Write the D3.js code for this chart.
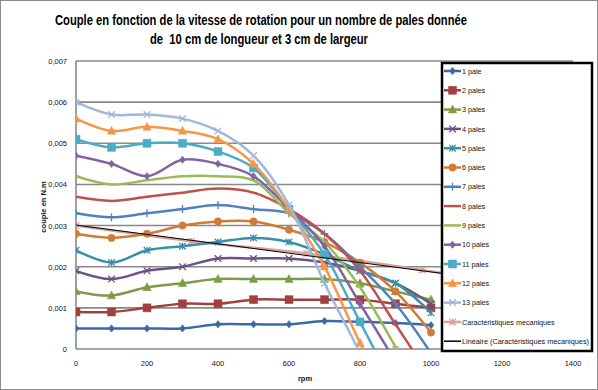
<!DOCTYPE html>
<html><head><meta charset="utf-8">
<script src="https://cdn.jsdelivr.net/npm/d3@7/dist/d3.min.js"></script>
<style>body{margin:0;background:#fff}svg{display:block}text{font-family:"Liberation Sans",Arial,sans-serif}</style>
</head><body><svg id="c" width="598" height="390"></svg>
<script>
const titleLines = ["Couple en fonction de la vitesse de rotation pour un nombre de pales donnée", "de  10 cm de longueur et 3 cm de largeur"];
const yTitle = "couple en N.m";
const xTitle = "rpm";
const rpm = [0,100,200,300,400,500,600,700,800,900,1000];
const xTicks = [0,200,400,600,800,1000,1200,1400];
const yTicks = [0,0.001,0.002,0.003,0.004,0.005,0.006,0.007];
const yTickLabels = ["0","0,001","0,002","0,003","0,004","0,005","0,006","0,007"];
const names = ["1 pale","2 pales","3 pales","4 pales","5 pales","6 pales","7 pales","8 pales","9 pales","10 pales","11 pales","12 pales","13 pales"];
const colors = ["#3B69A5","#A0413E","#7E9B47","#6A5287","#3A8FA8","#D07C34","#4F81BD","#C0504D","#9BBB59","#8064A2","#4BACC6","#F79646","#A3B7DA"];
const markers = ["diamond","square","triangle","cross","star","circle","plus","dash","dash","diamond","square","triangle","cross"];
const s1  = [0.0005,0.0005,0.0005,0.0005,0.0006,0.0006,0.0006,0.00068,0.00066,0.00063,0.00058];
const s2  = [0.0009,0.0009,0.001,0.0011,0.0011,0.0012,0.0012,0.0012,0.0012,0.0011,0.001];
const s3  = [0.0014,0.0013,0.0015,0.0016,0.0017,0.0017,0.0017,0.0017,0.0016,0.0014,0.0012];
const s4  = [0.0019,0.0017,0.0019,0.002,0.0022,0.0022,0.0022,0.0021,0.0019,0.0016,0.0011];
const s5  = [0.0024,0.0021,0.0024,0.0025,0.0026,0.0027,0.0026,0.0023,0.0019,0.0016,0.00088];
const s6  = [0.0028,0.0027,0.0028,0.003,0.0031,0.0031,0.0029,0.0026,0.0021,0.0014,0.0004];
const s7  = [0.0033,0.0032,0.0033,0.0034,0.0035,0.0034,0.0033,0.0028,0.002,0.0011,-0.0001];
const s8  = [0.0037,0.0036,0.0037,0.0038,0.0039,0.0038,0.0034,0.0028,0.0019,0.0006,-0.0007];
const s9  = [0.0042,0.004,0.0041,0.0042,0.0042,0.0041,0.0033,0.0026,0.0015,0.00005,-0.0015];
const s10 = [0.0047,0.0045,0.0042,0.0046,0.0045,0.0042,0.0034,0.0025,0.0011,-0.0003];
const s11 = [0.0051,0.0049,0.005,0.005,0.0048,0.0044,0.0034,0.0023,0.00066,-0.001];
const s12 = [0.0056,0.0053,0.0054,0.0053,0.0051,0.0045,0.0034,0.002,0.00015,-0.0015];
const s13 = [0.006,0.0057,0.0057,0.0056,0.0053,0.0047,0.0035,0.0016,-0.0001,-0.002];
const series = [s1,s2,s3,s4,s5,s6,s7,s8,s9,s10,s11,s12,s13];
const mecaName = "Caractéristiques mecaniques";
const mecaRpm = [0,325,650,975,1300];
const mecaVal = [0.003,0.00262,0.00232,0.00192,0.0015];
const mecaColor = "#D9A09E";
const trendName = "Linéaire (Caractéristiques mecaniques)";

const svg = d3.select("#c");
svg.append("rect").attr("x",0.5).attr("y",0.5).attr("width",597).attr("height",389).attr("fill","#fff").attr("stroke","#8c8c8c");

const x = d3.scaleLinear().domain([0,1400]).range([76,573]);
const y = d3.scaleLinear().domain([0,0.007]).range([349,61]);

// title
svg.append("text").attr("x",261).attr("y",25).attr("text-anchor","middle").attr("font-weight","bold").attr("font-size",14.5)
  .attr("textLength",412).attr("lengthAdjust","spacingAndGlyphs").text(titleLines[0]);
svg.append("text").attr("x",259).attr("y",44).attr("text-anchor","middle").attr("font-weight","bold").attr("font-size",14.5)
  .attr("textLength",218).attr("lengthAdjust","spacingAndGlyphs").attr("xml:space","preserve").style("white-space","pre").text(titleLines[1]);

// grid
svg.append("g").selectAll("line").data(yTicks.slice(1)).join("line")
  .attr("x1",x(0)).attr("x2",x(1400)).attr("y1",d=>y(d)).attr("y2",d=>y(d))
  .attr("stroke","#898989").attr("stroke-width",1.6);
svg.append("line").attr("x1",x(0)).attr("x2",x(0)).attr("y1",y(0.007)).attr("y2",y(0)).attr("stroke","#898989").attr("stroke-width",1.6);
svg.append("line").attr("x1",x(0)).attr("x2",x(1400)).attr("y1",y(0)).attr("y2",y(0)).attr("stroke","#898989").attr("stroke-width",1.6);

// tick labels
svg.append("g").selectAll("text").data(yTicks).join("text")
  .attr("x",67).attr("y",d=>y(d)+3).attr("text-anchor","end").attr("font-size",7.5).attr("fill","#111")
  .text((d,i)=>yTickLabels[i]);
svg.append("g").selectAll("text").data(xTicks).join("text")
  .attr("x",d=>x(d)).attr("y",366).attr("text-anchor","middle").attr("font-size",7.5).attr("fill","#111")
  .text(d=>d);
svg.append("text").attr("x",305).attr("y",381).attr("text-anchor","middle").attr("font-size",7.5).attr("font-weight","bold").attr("fill","#111").text(xTitle);
svg.append("text").attr("transform","translate(46,207) rotate(-90)").attr("text-anchor","middle").attr("font-size",7.5).attr("font-weight","bold").attr("fill","#111").text(yTitle);

svg.append("clipPath").attr("id","pc").append("rect").attr("x",x(0)).attr("y",y(0.007)-2).attr("width",x(1400)-x(0)).attr("height",y(0)-y(0.007)+2);
const plot = svg.append("g").attr("clip-path","url(#pc)");

function markerPath(type, size){
  const s=size;
  switch(type){
    case "diamond": return `M0,${-s}L${s*0.8},0L0,${s}L${-s*0.8},0Z`;
    case "square": return `M${-s},${-s}H${s}V${s}H${-s}Z`;
    case "triangle": return `M0,${-s*1.1}L${s},${s*0.8}L${-s},${s*0.8}Z`;
    case "cross": return `M${-s},${-s}L${s},${s}M${-s},${s}L${s},${-s}`;
    case "star": return `M${-s},${-s}L${s},${s}M${-s},${s}L${s},${-s}M0,${-s}V${s}`;
    case "circle": return `M${s},0A${s},${s} 0 1,1 ${-s},0A${s},${s} 0 1,1 ${s},0Z`;
    case "plus": return `M${-s},0H${s}M0,${-s}V${s}`;
    case "dash": return `M${-s},0H${s}`;
  }
}
const filled = t => ["diamond","square","triangle","circle"].includes(t);
const msize = {diamond:3.7,square:4,cross:3.3,star:3.3,circle:3.7,plus:4,triangle:4.2,dash:3.5};

const line = d3.line().x(d=>x(d[0])).y(d=>y(d[1])).curve(d3.curveCatmullRom.alpha(0.5));

const mecaPts = mecaRpm.map((r,i)=>[r,mecaVal[i]]);
plot.append("path").attr("d",line(mecaPts)).attr("fill","none").attr("stroke",mecaColor).attr("stroke-width",2.5);
plot.append("g").selectAll("path").data(mecaPts).join("path")
  .attr("transform",d=>`translate(${x(d[0])},${y(d[1])})`).attr("d",markerPath("star",3.3))
  .attr("stroke",mecaColor).attr("stroke-width",1.3).attr("fill","none");

series.forEach((vals,i)=>{
  const pts = vals.map((v,j)=>[rpm[j],v]);
  plot.append("path").attr("d",line(pts)).attr("fill","none").attr("stroke",colors[i]).attr("stroke-width",2.5);
  plot.append("g").selectAll("path").data(pts.filter(p=>p[1]>=0)).join("path")
    .attr("transform",d=>`translate(${x(d[0])},${y(d[1])})`).attr("d",markerPath(markers[i],msize[markers[i]]))
    .attr("fill",filled(markers[i])?colors[i]:"none").attr("stroke",colors[i]).attr("stroke-width",filled(markers[i])?0.5:1.3);
});

const n = mecaRpm.length, mx = d3.mean(mecaRpm), my = d3.mean(mecaVal);
const slope = d3.sum(mecaRpm.map((r,i)=>(r-mx)*(mecaVal[i]-my)))/d3.sum(mecaRpm.map(r=>(r-mx)*(r-mx)));
const icpt = my - slope*mx;
plot.append("line").attr("x1",x(mecaRpm[0])).attr("y1",y(icpt+slope*mecaRpm[0]))
  .attr("x2",x(mecaRpm[n-1])).attr("y2",y(icpt+slope*mecaRpm[n-1])).attr("stroke","#000").attr("stroke-width",1);

// legend
const lg = svg.append("g");
lg.append("rect").attr("x",442).attr("y",63).attr("width",150).attr("height",288).attr("fill","#fff").attr("stroke","#000").attr("stroke-width",2.5);
const legItems = names.map((n,i)=>({name:n,color:colors[i],marker:markers[i],w:2.5}));
legItems.push({name:mecaName,color:mecaColor,marker:"star",w:2.5});
legItems.push({name:trendName,color:"#000",marker:null,w:1.5});
legItems.forEach((it,i)=>{
  const yy = 71 + i*19.3;
  lg.append("line").attr("x1",444).attr("x2",461).attr("y1",yy).attr("y2",yy).attr("stroke",it.color).attr("stroke-width",it.w);
  if(it.marker){
    lg.append("path").attr("transform",`translate(452.5,${yy})`).attr("d",markerPath(it.marker,msize[it.marker]))
      .attr("fill",filled(it.marker)?it.color:"none").attr("stroke",it.color).attr("stroke-width",filled(it.marker)?0.5:1.3);
  }
  const t = lg.append("text").attr("x",462).attr("y",yy+2.6).attr("font-size",7.2).attr("fill","#111").text(it.name);
  if(i===legItems.length-1) t.attr("textLength",127).attr("lengthAdjust","spacingAndGlyphs");
});
</script></body></html>
